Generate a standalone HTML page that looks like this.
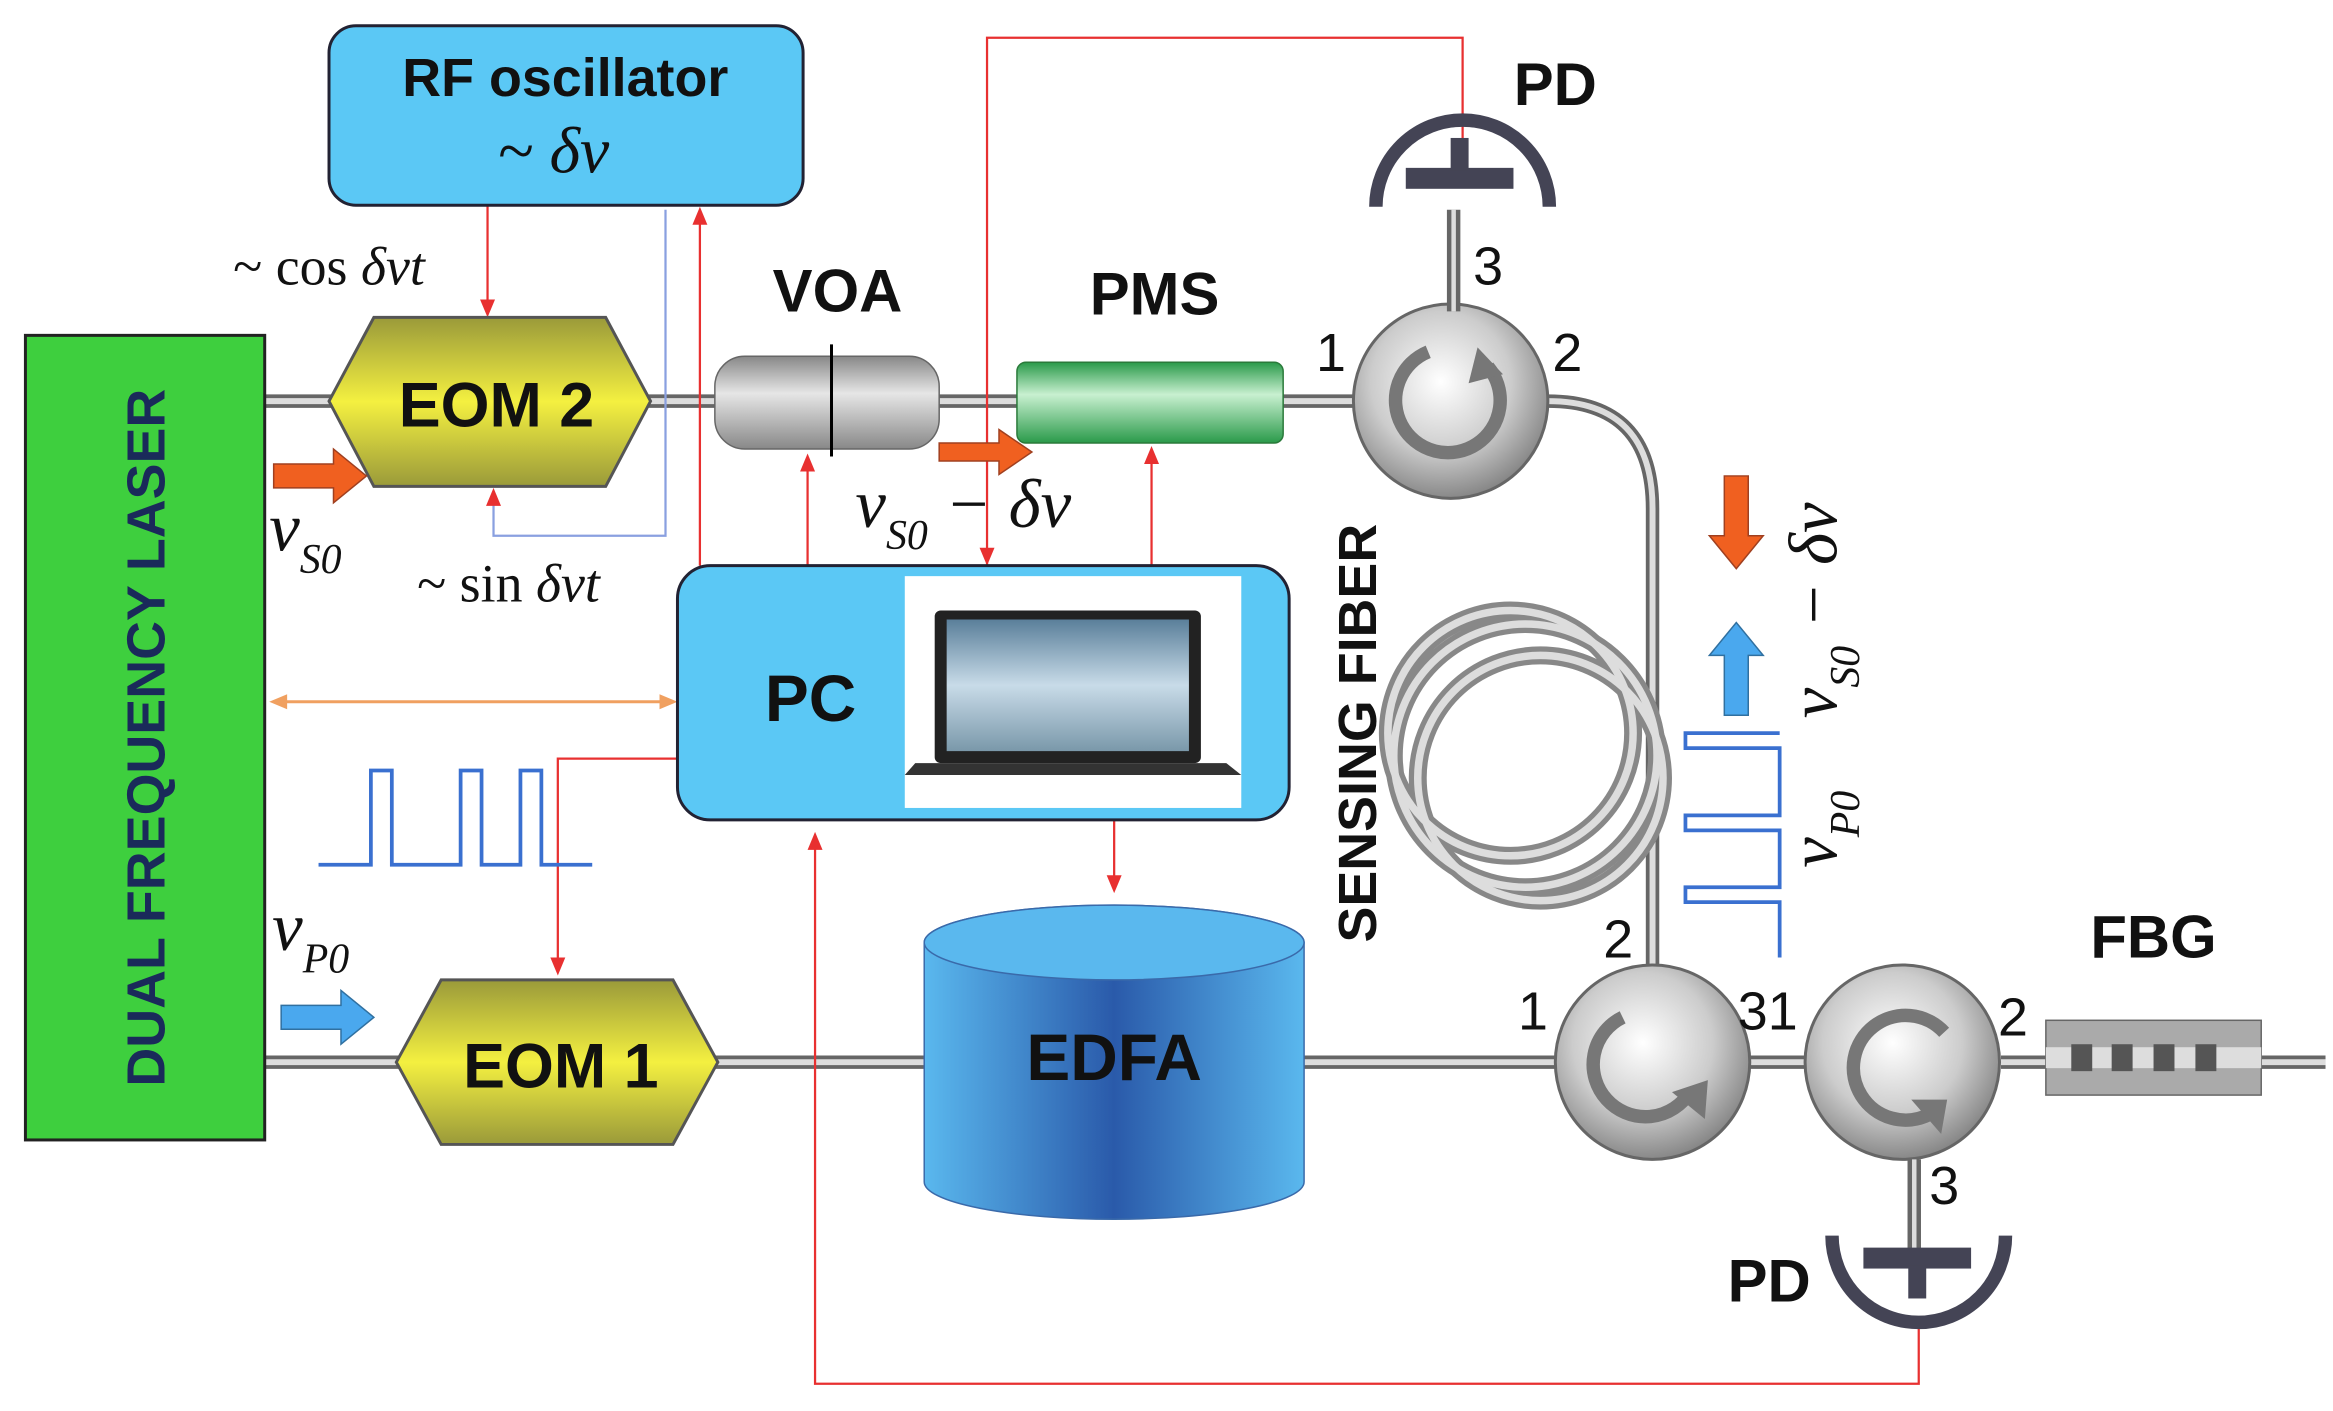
<!DOCTYPE html>
<html><head><meta charset="utf-8"><style>
html,body{margin:0;padding:0;background:#fff}
svg{display:block}
.b{font-family:"Liberation Sans",sans-serif;font-weight:bold}
.m{font-family:"Liberation Serif",serif;font-style:italic}
</style></head><body>
<svg width="2333" height="1411" viewBox="0 0 1560 943" xmlns="http://www.w3.org/2000/svg">
<defs>
<linearGradient id="hx" x1="0" y1="0" x2="0" y2="1"><stop offset="0" stop-color="#9a9a3a"/><stop offset="0.5" stop-color="#f4f040"/><stop offset="1" stop-color="#9a9a3a"/></linearGradient>
<linearGradient id="cy" x1="0" y1="0" x2="0" y2="1"><stop offset="0" stop-color="#888"/><stop offset="0.4" stop-color="#e6e6e6"/><stop offset="1" stop-color="#888"/></linearGradient>
<linearGradient id="pm" x1="0" y1="0" x2="0" y2="1"><stop offset="0" stop-color="#2a9a4a"/><stop offset="0.4" stop-color="#c8f0d0"/><stop offset="1" stop-color="#2a9a4a"/></linearGradient>
<linearGradient id="ed" x1="0" y1="0" x2="1" y2="0"><stop offset="0" stop-color="#5ab8ee"/><stop offset="0.5" stop-color="#2a5aaa"/><stop offset="1" stop-color="#5ab8ee"/></linearGradient>
<radialGradient id="ci" cx="0.45" cy="0.4" r="0.6"><stop offset="0" stop-color="#fff"/><stop offset="0.6" stop-color="#ccc"/><stop offset="1" stop-color="#888"/></radialGradient>
<linearGradient id="sky" x1="0" y1="0" x2="0" y2="1"><stop offset="0" stop-color="#5a7f9a"/><stop offset="0.5" stop-color="#c8dbe8"/><stop offset="1" stop-color="#7a98aa"/></linearGradient>
</defs>
<g stroke="#666" stroke-width="9" fill="none"><path d="M177 268H905"/><path d="M177 710H1040M1170 710H1210M1338 710H1555"/>
<path d="M1035 268 Q1105 268 1105 340 V650"/></g>
<g stroke="#ddd" stroke-width="4" fill="none"><path d="M177 268H905"/><path d="M177 710H1040M1170 710H1210M1338 710H1555"/>
<path d="M1035 268 Q1105 268 1105 340 V650"/></g>
<g stroke="#e83030" stroke-width="1.5" fill="none">
<path d="M326 137V205"/><path d="M468 378V145"/><path d="M540 378V308"/><path d="M770 378V304"/>
<path d="M660 378V25H978V100"/><path d="M453 507H373V645"/><path d="M745 548V590"/>
<path d="M545 560V925H1283V885"/>
<path d="M330 330V358H445V140" stroke="#8aa0e0"/>
</g>
<g fill="#e83030">
<path d="M321 200L326 212L331 200Z"/><path d="M463 150L468 138L473 150Z"/><path d="M535 315L540 303L545 315Z"/><path d="M765 310L770 298L775 310Z"/><path d="M655 366L660 378L665 366Z"/><path d="M368 640L373 652L378 640Z"/><path d="M740 585L745 597L750 585Z"/><path d="M540 568L545 556L550 568Z"/><path d="M325 338L330 326L335 338Z"/>
</g>
<g stroke="#f0a060" stroke-width="2"><path d="M185 469H448"/></g>
<path d="M180 469l12-5v10z M453 469l-12-5v10z" fill="#f0a060"/>
<rect x="17" y="224" width="160" height="538" fill="#3ecf3e" stroke="#222" stroke-width="2"/>
<text class="b" transform="translate(110 493) rotate(-90)" text-anchor="middle" font-size="36" fill="#1a2a5a">DUAL FREQUENCY LASER</text>
<rect x="220" y="17" width="317" height="120" rx="18" fill="#5bc8f5" stroke="#223" stroke-width="2"/>
<text class="b" x="378" y="64" text-anchor="middle" font-size="36" fill="#111">RF oscillator</text>
<text class="m" x="370" y="115" text-anchor="middle" font-size="44" fill="#111">~ δν</text>
<text class="m" x="220" y="190" text-anchor="middle" font-size="36" fill="#111"><tspan font-style="normal">~ cos</tspan> δνt</text>
<text class="m" x="340" y="402" text-anchor="middle" font-size="36" fill="#111"><tspan font-style="normal">~ sin</tspan> δνt</text>
<polygon points="220,268 250,212 405,212 435,268 405,325 250,325" fill="url(#hx)" stroke="#555" stroke-width="2"/>
<text class="b" x="332" y="285" text-anchor="middle" font-size="42" fill="#111">EOM 2</text>
<polygon points="265,710 295,655 450,655 480,710 450,765 295,765" fill="url(#hx)" stroke="#555" stroke-width="2"/>
<text class="b" x="375" y="727" text-anchor="middle" font-size="42" fill="#111">EOM 1</text>
<rect x="478" y="238" width="150" height="62" rx="20" fill="url(#cy)" stroke="#666"/>
<path d="M556 230V305" stroke="#000" stroke-width="2"/>
<text class="b" x="560" y="208" text-anchor="middle" font-size="40" fill="#111">VOA</text>
<rect x="680" y="242" width="178" height="54" rx="6" fill="url(#pm)" stroke="#2a7a3a"/>
<text class="b" x="772" y="210" text-anchor="middle" font-size="40" fill="#111">PMS</text>
<path d="M183 310h40v-10l22 18-22 18v-10h-40z" fill="#f06020" stroke="#a04020"/>
<path d="M628 296h40v-9l22 15-22 15v-9h-40z" fill="#f06020" stroke="#a04020"/>
<path d="M188 672h40v-10l22 18-22 18v-10h-40z" fill="#4aa8ee" stroke="#3070a0"/>
<path d="M1153 318v40h-10l18 22 18-22h-10v-40z" fill="#f06020" stroke="#a04020"/>
<path d="M1153 478v-40h-10l18-22 18 22h-10v40z" fill="#4aa8ee" stroke="#3070a0"/>
<text class="m" x="180" y="368" font-size="46" fill="#111">ν<tspan font-size="28" dy="15">S0</tspan></text>
<text class="m" x="182" y="635" font-size="46" fill="#111">ν<tspan font-size="28" dy="15">P0</tspan></text>
<text class="m" x="572" y="352" font-size="46" fill="#111">ν<tspan font-size="28" dy="15">S0</tspan><tspan dy="-15"> − δν</tspan></text>
<text class="m" transform="translate(1228 480) rotate(-90)" font-size="46" fill="#111">ν<tspan font-size="28" dy="15">S0</tspan><tspan dy="-15"> − δν</tspan></text>
<text class="m" transform="translate(1228 580) rotate(-90)" font-size="46" fill="#111">ν<tspan font-size="28" dy="15">P0</tspan></text>
<path d="M213 578H248V515H262V578H308V515H322V578H348V515H362V578H396" stroke="#3a70d0" stroke-width="2.5" fill="none"/>
<path d="M1190 490H1127V500H1190V545H1127V555H1190V593H1127V603H1190V640" stroke="#3a70d0" stroke-width="2.5" fill="none"/>
<rect x="453" y="378" width="409" height="170" rx="22" fill="#5bc8f5" stroke="#223" stroke-width="2"/>
<text class="b" x="542" y="482" text-anchor="middle" font-size="44" fill="#111">PC</text>
<rect x="605" y="385" width="225" height="155" fill="#fff"/>
<rect x="625" y="408" width="178" height="102" rx="4" fill="#222"/>
<rect x="633" y="414" width="162" height="88" fill="url(#sky)"/>
<path d="M612 510H820L830 518H605Z" fill="#333"/>
<path d="M618 630 A127 25 0 0 1 872 630 V790 A127 25 0 0 1 618 790Z" fill="url(#ed)" stroke="#3a6aaa"/>
<ellipse cx="745" cy="630" rx="127" ry="25" fill="#5ab8ee" stroke="#3a6aaa"/>
<text class="b" x="745" y="722" text-anchor="middle" font-size="44" fill="#111">EDFA</text>
<g fill="none" stroke="#888" stroke-width="12"><circle cx="1010" cy="490" r="82"/><circle cx="1020" cy="505" r="88"/><circle cx="1030" cy="520" r="82"/></g>
<g fill="none" stroke="#ddd" stroke-width="5"><circle cx="1010" cy="490" r="82"/><circle cx="1020" cy="505" r="88"/><circle cx="1030" cy="520" r="82"/></g>
<text class="b" transform="translate(920 490) rotate(-90)" text-anchor="middle" font-size="36" fill="#111">SENSING FIBER</text>
<g stroke="#666" stroke-width="2">
<circle cx="970" cy="268" r="65" fill="url(#ci)"/>
<circle cx="1105" cy="710" r="65" fill="url(#ci)"/>
<circle cx="1272" cy="710" r="65" fill="url(#ci)"/></g>
<g fill="none" stroke="#777" stroke-width="9">
<path d="M955 235 A35 35 0 1 0 995 245"/><path d="M1085 680 A35 35 0 1 0 1130 730"/><path d="M1300 690 A35 35 0 1 0 1290 745"/></g>
<g fill="#777"><path d="M988 232L1005 250L982 256Z"/><path d="M1118 730L1140 748L1142 722Z"/><path d="M1278 735L1298 758L1302 735Z"/></g>
<g font-size="36" fill="#111" font-family="Liberation Sans,sans-serif">
<text x="880" y="248">1</text><text x="1038" y="248">2</text><text x="985" y="190">3</text>
<text x="1072" y="640">2</text><text x="1015" y="688">1</text><text x="1162" y="688">31</text><text x="1336" y="692">2</text><text x="1290" y="805">3</text></g>
<path d="M972 140V208" stroke="#666" stroke-width="9"/><path d="M972 140V208" stroke="#ddd" stroke-width="3"/>
<path d="M920 138 A58 58 0 0 1 1036 138" fill="none" stroke="#445" stroke-width="9"/>
<rect x="940" y="112" width="72" height="14" fill="#445"/><rect x="970" y="92" width="12" height="22" fill="#445"/>
<text class="b" x="1040" y="70" text-anchor="middle" font-size="40" fill="#111">PD</text>
<path d="M1280 775V840" stroke="#666" stroke-width="9"/><path d="M1280 775V840" stroke="#ddd" stroke-width="3"/>
<path d="M1225 826 A58 58 0 0 0 1341 826" fill="none" stroke="#445" stroke-width="9"/>
<rect x="1246" y="834" width="72" height="14" fill="#445"/><rect x="1276" y="846" width="12" height="22" fill="#445"/>
<text class="b" x="1183" y="870" text-anchor="middle" font-size="40" fill="#111">PD</text>
<rect x="1368" y="682" width="144" height="50" fill="#aaa" stroke="#666"/>
<rect x="1368" y="700" width="144" height="14" fill="#ddd"/>
<g fill="#555"><rect x="1385" y="698" width="14" height="18"/><rect x="1412" y="698" width="14" height="18"/><rect x="1440" y="698" width="14" height="18"/><rect x="1468" y="698" width="14" height="18"/></g>
<text class="b" x="1440" y="640" text-anchor="middle" font-size="40" fill="#111">FBG</text>
</svg>
</body></html>
